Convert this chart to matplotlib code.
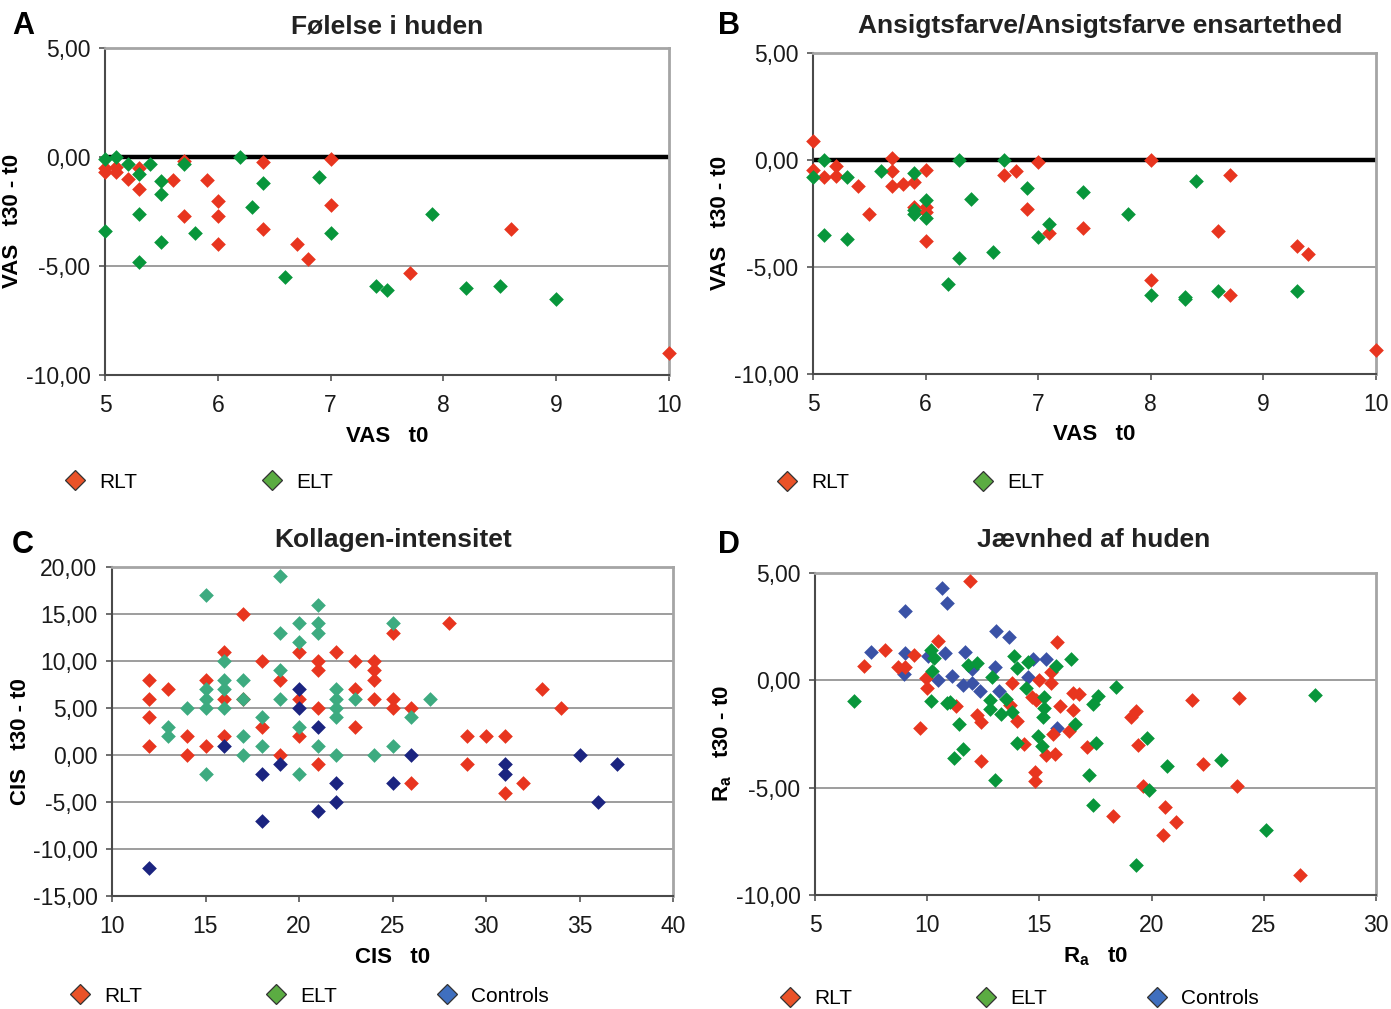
import matplotlib
matplotlib.use('Agg')
import matplotlib.pyplot as plt
from matplotlib.lines import Line2D
from matplotlib.ticker import FuncFormatter, MultipleLocator

# ---- data ----
# A: Følelse i huden (VAS t0 vs VAS t30 - t0)
a_rlt_x = [5, 5, 5.1, 5.1, 5.2, 5.3, 5.3, 5.6, 5.7, 5.7, 5.9, 6.0, 6.0, 6.0, 6.4, 6.4, 6.7, 6.8, 7.0, 7.0, 7.7, 8.6, 10]
a_rlt_y = [-0.5, -0.7, -0.45, -0.7, -1.0, -0.5, -1.45, -1.05, -0.2, -2.7, -1.05, -2.0, -2.7, -4.0, -0.25, -3.3, -4.0, -4.7, -0.1, -2.2, -5.3, -3.3, -9.0]
a_elt_x = [5, 5, 5.1, 5.2, 5.3, 5.3, 5.3, 5.4, 5.5, 5.5, 5.5, 5.7, 5.8, 6.2, 6.3, 6.4, 6.6, 6.9, 7.0, 7.4, 7.5, 7.9, 8.2, 8.5, 9.0]
a_elt_y = [-0.1, -3.4, 0.0, -0.3, -0.8, -2.6, -4.8, -0.3, -1.1, -1.7, -3.9, -0.3, -3.5, 0.0, -2.3, -1.2, -5.5, -0.9, -3.5, -5.9, -6.1, -2.6, -6.0, -5.9, -6.5]

# B: Ansigtsfarve/Ansigtsfarve ensartethed
b_rlt_x = [5, 5, 5.1, 5.2, 5.2, 5.4, 5.5, 5.7, 5.7, 5.7, 5.8, 5.9, 5.9, 6.0, 6.0, 6.0, 6.0, 6.7, 6.8, 6.9, 7.0, 7.1, 7.4,
           8.0, 8.0, 8.6, 8.7, 8.7, 9.3, 9.4, 10]
b_rlt_y = [0.9, -0.45, -0.8, -0.3, -0.75, -1.2, -2.5, 0.1, -0.5, -1.2, -1.1, -1.05, -2.2, -0.45, -2.2, -2.45, -3.8, -0.7, -0.5,
           -2.3, -0.1, -3.4, -3.2, 0.0, -5.6, -3.3, -0.7, -6.3, -4.0, -4.4, -8.9]
b_elt_x = [5, 5.1, 5.1, 5.3, 5.3, 5.6, 5.9, 5.9, 5.9, 6.0, 6.0, 6.2, 6.3, 6.3, 6.4, 6.6, 6.7, 6.9, 7.0, 7.1, 7.4, 7.8,
           8.0, 8.3, 8.3, 8.4, 8.6, 9.3]
b_elt_y = [-0.8, 0.0, -3.5, -0.8, -3.7, -0.5, -0.6, -2.35, -2.5, -1.85, -2.7, -5.8, 0.0, -4.6, -1.8, -4.3, 0.0, -1.3, -3.6,
           -3.0, -1.5, -2.5, -6.3, -6.4, -6.5, -1.0, -6.1, -6.1]

# C: Kollagen-intensitet (CIS t0 vs CIS t30 - t0)
c_rlt_x = [12, 12, 12, 12, 13, 14, 14, 15, 15, 16, 16, 16, 17, 17, 18, 18, 19, 19, 20, 20, 20, 21, 21, 21, 21, 22,
           23, 23, 23, 24, 24, 24, 24, 25, 25, 25, 26, 26, 28, 29, 29, 30, 31, 31, 32, 33, 34]
c_rlt_y = [8, 6, 4, 1, 7, 2, 0, 8, 1, 11, 6, 2, 15, 6, 10, 3, 8, 0, 11, 6, 2, 10, 9, 5, -1, 11,
           10, 7, 3, 10, 9, 8, 6, 13, 6, 5, 5, -3, 14, 2, -1, 2, 2, -4, -3, 7, 5]
c_elt_x = [13, 13, 14, 15, 15, 15, 15, 15, 16, 16, 16, 16, 17, 17, 17, 17, 18, 18, 19, 19, 19, 19, 20, 20, 20, 20,
           21, 21, 21, 21, 22, 22, 22, 22, 22, 23, 24, 25, 25, 26, 27]
c_elt_y = [3, 2, 5, 17, 7, 6, 5, -2, 10, 8, 7, 5, 8, 6, 2, 0, 4, 1, 19, 13, 9, 6, 14, 12, 3, -2,
           16, 14, 13, 1, 7, 6, 5, 4, 0, 6, 0, 14, 1, 4, 6]
c_ctl_x = [12, 16, 18, 18, 19, 20, 20, 21, 21, 22, 22, 25, 26, 31, 31, 35, 36, 37]
c_ctl_y = [-12, 1, -2, -7, -1, 7, 5, 3, -6, -3, -5, -3, 0, -1, -2, 0, -5, -1]

# D: Jævnhed af huden (Ra t0 vs Ra t30 - t0)
d_rlt_x = [7.2, 8.1, 8.7, 9.0, 9.4, 9.7, 9.95, 10.0, 10.5, 11.3, 11.9, 12.2, 12.4, 12.4, 13.7, 13.8, 14.0, 14.3, 14.65,
           14.85, 14.8, 14.8, 15.0, 15.5, 15.5, 15.8, 15.9, 15.6, 15.3, 15.7, 16.3, 16.5, 16.75, 16.5, 17.1, 18.3,
           19.1, 19.3, 19.4, 19.6, 20.6, 21.1, 20.5, 21.8, 22.3, 23.9, 23.8, 26.6]
d_rlt_y = [0.65, 1.4, 0.62, 0.62, 1.2, -2.2, 0.12, -0.34, 1.82, -1.2, 4.63, -1.6, -1.95, -3.74, -1.15, -0.12, -1.9, -2.96,
           -0.78, -0.93, -4.28, -4.67, 0.0, 0.39, -0.12, 1.79, -1.21, -2.49, -3.5, -3.43, -2.38, -0.58, -0.62, -1.4,
           -3.12, -6.3, -1.7, -1.45, -3.0, -4.9, -5.9, -6.6, -7.2, -0.9, -3.9, -0.8, -4.9, -9.05]
d_elt_x = [6.75, 10.15, 10.3, 10.2, 10.15, 10.9, 11.0, 11.4, 11.6, 11.2, 11.8, 12.2, 12.9, 12.8, 12.8, 13.0, 13.5, 13.3,
           13.8, 13.85, 14.0, 14.0, 14.5, 14.4, 14.95, 15.1, 15.2, 15.2, 15.15, 15.75, 16.4, 16.6, 17.2, 17.4, 17.6,
           17.5, 17.4, 18.4, 19.3, 19.8, 19.9, 20.7, 23.1, 25.1, 27.3]
d_elt_y = [-0.98, 1.43, 1.04, 0.43, -0.98, -1.06, -1.0, -2.02, -3.21, -3.61, 0.7, 0.81, 0.15, -0.93, -1.32, -4.63, -0.86,
           -1.59, -1.48, 1.12, 0.59, -2.93, 0.87, -0.34, -2.57, -3.08, -0.78, -1.28, -1.71, 0.67, 1.0, -2.02, -4.39,
           -1.12, -0.75, -2.93, -5.8, -0.31, -8.6, -2.7, -5.1, -4.0, -3.7, -6.95, -0.7]
d_ctl_x = [7.5, 9.0, 9.0, 8.95, 10.05, 10.65, 10.9, 10.8, 10.5, 11.1, 11.7, 11.6, 12.0, 12.0, 12.35, 13.05, 13.0, 13.65,
           13.2, 14.7, 14.5, 15.3, 15.8]
d_ctl_y = [1.31, 3.21, 1.25, 0.31, 1.12, 4.29, 3.61, 1.28, 0.0, 0.19, 1.31, -0.2, 0.55, -0.13, -0.48, 2.29, 0.62, 2.0,
           -0.5, 1.0, 0.15, 1.0, -2.21]

# ---- styling ----
W, H = 1391, 1009
RED = '#e8351f'
GREEN = '#08963b'
TEAL = '#3dab80'
NAVY = '#1b2480'
BLUE = '#3a52a6'
LEG_RED = '#ea5228'
LEG_GREEN = '#5bac42'
LEG_BLUE = '#3f6fbf'

plt.rcParams['font.family'] = ['Liberation Sans', 'DejaVu Sans']
plt.rcParams['mathtext.fontset'] = 'custom'
plt.rcParams['mathtext.bf'] = 'Liberation Sans:bold'
plt.rcParams['mathtext.rm'] = 'Liberation Sans'

NARROW = ['Liberation Sans Narrow', 'Liberation Sans']


def px_box(left, top, right, bottom):
    return [left / W, 1 - bottom / H, (right - left) / W, (bottom - top) / H]


def comma_fmt(v, pos):
    return f'{v:.2f}'.replace('.', ',')


def style_axes(ax, xlim, xstep, ylim, ystep, xlabel, ylabel, zero_line):
    ax.set_xlim(*xlim)
    ax.set_ylim(*ylim)
    ax.xaxis.set_major_locator(MultipleLocator(xstep))
    ax.yaxis.set_major_locator(MultipleLocator(ystep))
    ax.yaxis.set_major_formatter(FuncFormatter(comma_fmt))
    ax.tick_params(direction='out', length=4.5, width=1.2, color='#555555',
                   labelsize=16.5, labelcolor='#1a1a1a')
    ax.tick_params(axis='x', pad=9)
    ax.tick_params(axis='y', pad=6)
    ax.yaxis.grid(True, color='#8c8c8c', linewidth=1.2)
    ax.set_axisbelow(True)
    for side in ('left', 'bottom'):
        ax.spines[side].set_color('#4a4a4a')
        ax.spines[side].set_linewidth(1.5)
    for side in ('top', 'right'):
        ax.spines[side].set_color('#a5a5a5')
        ax.spines[side].set_linewidth(2.0)
    if zero_line:
        ax.axhline(0, color='black', linewidth=3.2, zorder=1.5)
    ax.set_xlabel(xlabel, fontsize=16, fontweight='bold')
    ax.set_ylabel(ylabel, fontsize=16, fontweight='bold')
    ax.xaxis.set_label_coords(0.5, -0.155)
    ax.yaxis.set_label_coords(-0.145, 0.47)


def add_legend_entry(fig, x_px, y_px, label, color):
    handle = Line2D([], [], linestyle='none', marker='D', markersize=10,
                    markerfacecolor=color, markeredgecolor='#333333', markeredgewidth=0.9)
    fig.legend([handle], [label], loc='center left',
               bbox_to_anchor=((x_px - 10.5) / W, 1 - y_px / H),
               frameon=False, borderpad=0, borderaxespad=0,
               handlelength=1.0, handletextpad=0.65,
               prop={'family': NARROW, 'size': 15})


def scatter(ax, x, y, color):
    ax.scatter(x, y, marker='D', s=56, color=color, linewidths=0, zorder=3, clip_on=False)


fig = plt.figure(figsize=(W / 100, H / 100), dpi=100)

ax_a = fig.add_axes(px_box(105, 48, 669, 375))
ax_b = fig.add_axes(px_box(813, 53, 1376, 374))
ax_c = fig.add_axes(px_box(112, 567, 673, 896))
ax_d = fig.add_axes(px_box(815, 573, 1376, 895))

# A
scatter(ax_a, a_rlt_x, a_rlt_y, RED)
scatter(ax_a, a_elt_x, a_elt_y, GREEN)
style_axes(ax_a, (5, 10), 1, (-10, 5), 5, 'VAS   t0', 'VAS   t30 - t0', True)

# B
scatter(ax_b, b_rlt_x, b_rlt_y, RED)
scatter(ax_b, b_elt_x, b_elt_y, GREEN)
style_axes(ax_b, (5, 10), 1, (-10, 5), 5, 'VAS   t0', 'VAS   t30 - t0', True)

# C
scatter(ax_c, c_rlt_x, c_rlt_y, RED)
scatter(ax_c, c_elt_x, c_elt_y, TEAL)
scatter(ax_c, c_ctl_x, c_ctl_y, NAVY)
style_axes(ax_c, (10, 40), 5, (-15, 20), 5, 'CIS   t0', 'CIS   t30 - t0', False)

# D
scatter(ax_d, d_ctl_x, d_ctl_y, BLUE)
scatter(ax_d, d_rlt_x, d_rlt_y, RED)
scatter(ax_d, d_elt_x, d_elt_y, GREEN)
style_axes(ax_d, (5, 30), 5, (-10, 5), 5, r'$\mathbf{R}_{\mathbf{a}}$   t0',
           r'$\mathbf{R}_{\mathbf{a}}$   t30 - t0', False)

# titles and panel letters
title_kw = dict(ha='center', va='center', fontsize=19, fontweight='bold', color='#222222')
fig.text(387 / W, 1 - 26 / H, 'Følelse i huden', **title_kw)
fig.text(1100 / W, 1 - 26 / H, 'Ansigtsfarve/Ansigtsfarve ensartethed', **title_kw)
fig.text(393 / W, 1 - 540 / H, 'Kollagen-intensitet', **title_kw)
fig.text(1094 / W, 1 - 540 / H, 'Jævnhed af huden', **title_kw)

letter_kw = dict(ha='left', va='center', fontsize=22, fontweight='bold', color='black')
fig.text(12 / W, 1 - 26 / H, 'A', **letter_kw)
fig.text(718 / W, 1 - 26 / H, 'B', **letter_kw)
fig.text(12 / W, 1 - 545 / H, 'C', **letter_kw)
fig.text(718 / W, 1 - 545 / H, 'D', **letter_kw)

# legends
add_legend_entry(fig, 75, 482, 'RLT', LEG_RED)
add_legend_entry(fig, 272, 482, 'ELT', LEG_GREEN)
add_legend_entry(fig, 787, 483, 'RLT', LEG_RED)
add_legend_entry(fig, 983, 483, 'ELT', LEG_GREEN)
add_legend_entry(fig, 80, 996, 'RLT', LEG_RED)
add_legend_entry(fig, 276, 996, 'ELT', LEG_GREEN)
add_legend_entry(fig, 447, 996, 'Controls', LEG_BLUE)
add_legend_entry(fig, 790, 999, 'RLT', LEG_RED)
add_legend_entry(fig, 986, 999, 'ELT', LEG_GREEN)
add_legend_entry(fig, 1157, 999, 'Controls', LEG_BLUE)

fig.savefig('out.png', dpi=100)
